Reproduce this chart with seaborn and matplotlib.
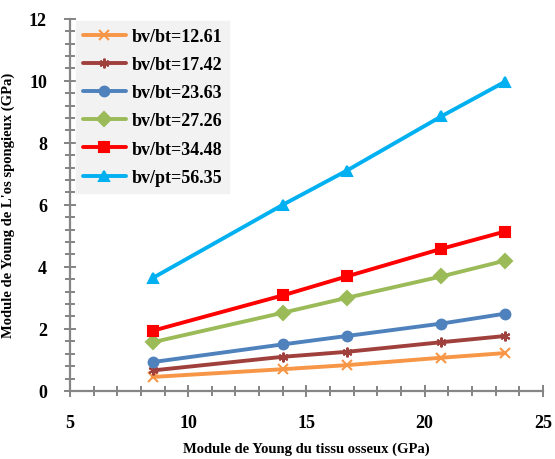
import pandas as pd
import seaborn as sns
import matplotlib.pyplot as plt
from matplotlib.ticker import MultipleLocator

# bone tissue modulus (GPa)
tissue = [8.5, 14.0, 16.7, 20.7, 23.4]

labels = ["bv/bt=12.61", "bv/bt=17.42", "bv/bt=23.63",
          "bv/bt=27.26", "bv/bt=34.48", "bv/pt=56.35"]

s1261 = [0.45, 0.70, 0.83, 1.07, 1.22]
s1742 = [0.66, 1.10, 1.26, 1.57, 1.77]
s2363 = [0.93, 1.50, 1.77, 2.17, 2.49]
s2726 = [1.57, 2.52, 3.00, 3.69, 4.20]
s3448 = [1.94, 3.08, 3.69, 4.58, 5.14]
s5635 = [3.64, 6.00, 7.10, 8.85, 9.97]

series = [s1261, s1742, s2363, s2726, s3448, s5635]

colors = ["#F79646", "#A0403D", "#4F81BD", "#9BBB59", "#FF0000", "#00B0F0"]
marks = ["x", (6, 2, 0), "o", "D", "s", "^"]

gray = "#868686"
sns.set_theme(style="ticks", rc={
    "xtick.minor.size": 7, "ytick.minor.size": 7,
    "xtick.minor.width": 1.4, "ytick.minor.width": 1.4,
    "xtick.direction": "inout", "ytick.direction": "inout",
})
plt.rcParams["font.family"] = ["Liberation Serif", "DejaVu Serif"]
plt.rcParams["font.weight"] = "bold"

fig = plt.figure(figsize=(5.55, 4.6), dpi=100)
ax = fig.add_axes([0.126, 0.148, 0.852, 0.809])

for lab, vals, c, m in zip(labels, series, colors, marks):
    d = pd.DataFrame({"tissu": tissue, "spongieux": vals})
    sns.lineplot(data=d, x="tissu", y="spongieux", color=c, marker=m,
                 linewidth=2.8, markersize=7, markeredgewidth=1.5,
                 markeredgecolor=c, label=lab, ax=ax)

ax.set_xlim(5, 25)
ax.set_ylim(0, 12)
ax.xaxis.set_major_locator(MultipleLocator(5))
ax.xaxis.set_minor_locator(MultipleLocator(1))
ax.yaxis.set_major_locator(MultipleLocator(2))
ax.yaxis.set_minor_locator(MultipleLocator(0.4))

for side in ["top", "right"]:
    ax.spines[side].set_visible(False)
for side in ["left", "bottom"]:
    ax.spines[side].set_color(gray)
    ax.spines[side].set_linewidth(1.6)

ax.tick_params(axis="both", which="major", direction="inout", length=9,
               width=1.4, color=gray, labelsize=13, pad=12,
               left=True, bottom=True, labelcolor="black")
ax.tick_params(axis="both", which="minor", color=gray)

# Excel-style crossing tick marks, placed at the locator positions
xt = list(ax.xaxis.get_majorticklocs()) + list(ax.xaxis.get_minorticklocs())
yt = list(ax.yaxis.get_majorticklocs()) + list(ax.yaxis.get_minorticklocs())
ax.vlines([v for v in xt if 5 <= v <= 25], -0.012, 0.012, color=gray,
          linewidth=1.4, transform=ax.get_xaxis_transform(), clip_on=False)
ax.hlines([v for v in yt if 0 <= v <= 12], -0.0095, 0.0095, color=gray,
          linewidth=1.4, transform=ax.get_yaxis_transform(), clip_on=False)

ax.set_xlabel("Module de Young du tissu osseux (GPa)", fontsize=10.5,
              fontweight="bold", labelpad=8, color="black")
ax.set_ylabel("Module de Young de L'os spongieux (GPa)", fontsize=10.5,
              fontweight="bold", labelpad=10, color="black")

leg = ax.legend(loc="upper left", bbox_to_anchor=(0.012, 0.995),
                prop={"weight": "bold", "size": 13}, handlelength=2.4,
                frameon=True, fancybox=False, borderpad=0.4,
                labelspacing=0.62, handletextpad=0.3, borderaxespad=0)
leg.get_frame().set_facecolor("#F2F2F2")
leg.get_frame().set_edgecolor("#F2F2F2")
leg.get_frame().set_alpha(1)
for t in leg.get_texts():
    t.set_color("black")

fig.savefig("out.png", dpi=100)
